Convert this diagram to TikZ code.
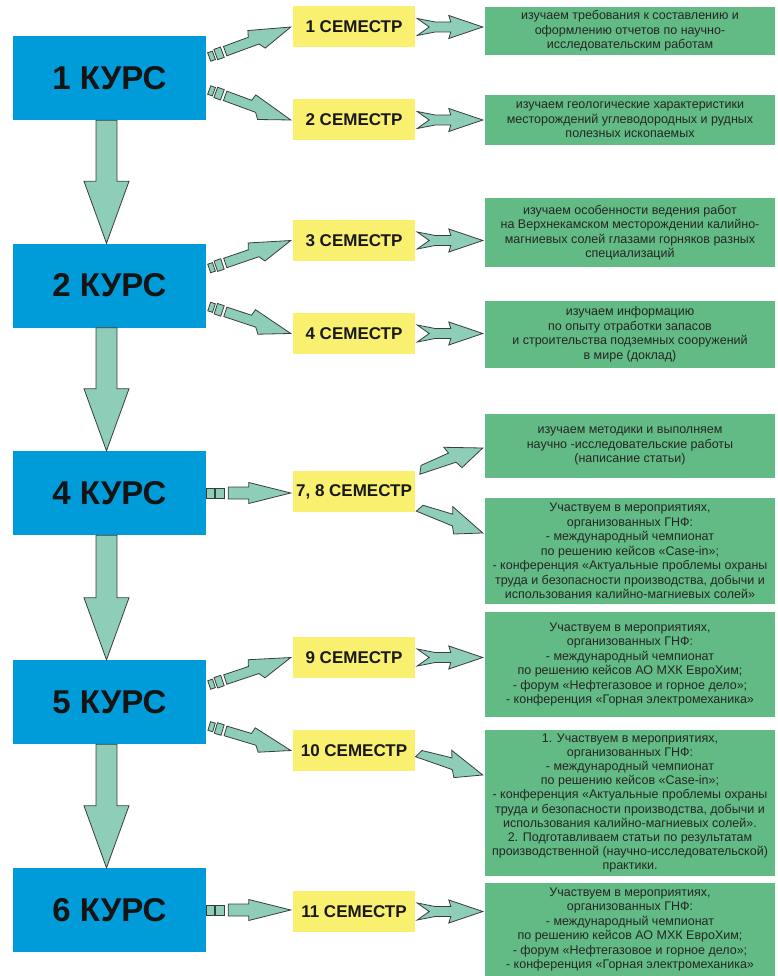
\documentclass[tikz,border=0pt]{standalone}
\usepackage{fontspec}
\setmainfont{Liberation Sans}
\usetikzlibrary{calc}

\definecolor{kursblue}{RGB}{0,156,218}
\definecolor{semyellow}{RGB}{249,240,112}
\definecolor{taskgreen}{RGB}{98,186,132}
\definecolor{arrowteal}{RGB}{142,205,184}
\definecolor{arrowline}{RGB}{55,62,60}
\definecolor{textgray}{RGB}{38,38,38}

% arrow along the line between two anchors, drawn in its own frame
\newcommand{\placearrow}[3]{%
  \path let \p1=#2, \p2=#3 in \pgfextra{%
    \pgfmathsetmacro\arrang{atan2(\y2-\y1,\x2-\x1)}%
    \pgfmathsetmacro\arrlen{veclen(\x2-\x1,\y2-\y1)}%
    \global\let\arrang\arrang\global\let\arrlen\arrlen};
  \begin{scope}[shift={#2}, rotate=\arrang, x=1pt, y=1pt]
    #1
  \end{scope}}

\newcommand{\shapestripezig}{%
  \draw[arr] (0,-4.5) rectangle (5,4.5);
  \draw[arr] (7,-5.5) rectangle (14,5.5);
  \draw[arr] (17,-5) -- (17,5) -- ({0.5*\arrlen},5) -- ({0.5*\arrlen+2},11.5) -- (\arrlen,0)
    -- ({0.64*\arrlen},-11) -- ({0.59*\arrlen},-5) -- cycle;}
\newcommand{\shapestripestraight}{%
  \draw[arr] (0,-5) rectangle (8,5);
  \draw[arr] (9,-5) rectangle (18,5);
  \draw[arr] (22,-6) -- (22,6) -- ({\arrlen-42},6) -- ({\arrlen-42},10.5) -- (\arrlen,0)
    -- ({\arrlen-42},-10.5) -- ({\arrlen-42},-6) -- cycle;}
\newcommand{\shapenotched}{%
  \draw[arr] (0,8.5) -- (18,5) -- ({\arrlen-32},5) -- ({\arrlen-34},11.5) -- (\arrlen,0)
    -- ({\arrlen-34},-11.5) -- ({\arrlen-32},-5) -- (18,-5) -- (0,-8.5) -- (12,0) -- cycle;}
\newcommand{\shapezig}{%
  \draw[arr] (0,-5) -- (4,3) -- ({0.5*\arrlen},6) -- ({0.46*\arrlen},13) -- (\arrlen,0)
    -- ({0.62*\arrlen},-12) -- ({0.56*\arrlen},-5) -- cycle;}

% big arrow from one course to the next
\newcommand{\courseflow}[2]{%
  \draw[arr] let \p1=([xshift=-3pt]#1.south), \p2=([xshift=-3pt]#2.north) in
    (\x1-10.5pt,\y1) -- (\x1+10.5pt,\y1) -- (\x1+10.5pt,\y2+62pt) -- (\x1+22.5pt,\y2+62pt)
    -- (\x1,\y2) -- (\x1-22.5pt,\y2+62pt) -- (\x1-10.5pt,\y2+62pt) -- cycle;}

\begin{document}
\begin{tikzpicture}[x=1pt, y=-1pt,
    kurs/.style={fill=kursblue, minimum width=193pt, minimum height=84pt, inner sep=0pt,
      font=\fontsize{33}{37}\selectfont\bfseries, text=black!92},
    semestr/.style={fill=semyellow, minimum width=122pt, minimum height=41pt, inner sep=0pt,
      font=\fontsize{17}{20}\selectfont\bfseries, text=black!90},
    task/.style={fill=taskgreen, minimum width=290pt, inner sep=0pt, align=center,
      font=\fontsize{12.5}{14.5}\selectfont, text=textgray},
    arr/.style={fill=arrowteal, draw=arrowline, line width=0.8pt}]
    \useasboundingbox (0,0) rectangle (778,976);

    % Courses
    \foreach \c/\y in {1/78, 2/285.5, 4/493, 5/702, 6/910} {
        \node[kurs] (k\c) at (109.5,\y) {\c~КУРС};
    }

    % Semesters
    \foreach \c/\t/\y in {1/1/27, 2/2/120, 3/3/240.5, 4/4/333.5, 78/{7, 8}/491.5,
                          9/9/657.5, 10/10/750.5, 11/11/911.5} {
        \node[semestr] (s\c) at (354,\y) {\t~СЕМЕСТР};
    }

    % What is done in each semester
    \node[task, minimum height=48pt] (g1) at (630,31) {изучаем требования к составлению и\\
        оформлению отчетов по научно-\\исследовательским работам};
    \node[task, minimum height=50pt] (g2) at (630,120) {изучаем геологические характеристики\\
        месторождений углеводородных и рудных\\полезных ископаемых};
    \node[task, minimum height=69pt] (g3) at (630,232.5) {изучаем особенности ведения работ\\
        на Верхнекамском месторождении калийно-\\магниевых солей глазами горняков разных\\специализаций};
    \node[task, minimum height=67pt] (g4) at (630,334.5) {изучаем информацию\\
        по опыту отработки запасов\\и строительства подземных сооружений\\в мире (доклад)};
    \node[task, minimum height=64pt] (g5) at (630,446) {изучаем методики и выполняем\\
        научно -исследовательские работы\\(написание статьи)};
    \node[task, minimum height=106pt] (g6) at (630,551) {Участвуем в мероприятиях,\\
        организованных ГНФ:\\- международный чемпионат\\по решению кейсов «Case-in»;\\
        - конференция «Актуальные проблемы охраны\\труда и безопасности производства, добычи и\\
        использования калийно-магниевых солей»};
    \node[task, minimum height=105pt] (g7) at (630,664.5) {Участвуем в мероприятиях,\\
        организованных ГНФ:\\- международный чемпионат\\по решению кейсов АО МХК ЕвроХим;\\
        - форум «Нефтегазовое и горное дело»;\\- конференция «Горная электромеханика»};
    \node[task, minimum height=146pt, font=\fontsize{12.5}{14.2}\selectfont] (g8) at (630,803)
        {1. Участвуем в мероприятиях,\\
        организованных ГНФ:\\- международный чемпионат\\по решению кейсов «Case-in»;\\
        - конференция «Актуальные проблемы охраны\\труда и безопасности производства, добычи и\\
        использования калийно-магниевых солей».\\2. Подготавливаем статьи по результатам\\
        производственной (научно-исследовательской)\\практики.};
    \node[task, minimum height=93pt] (g9) at (630,929.5) {Участвуем в мероприятиях,\\
        организованных ГНФ:\\- международный чемпионат\\по решению кейсов АО МХК ЕвроХим;\\
        - форум «Нефтегазовое и горное дело»;\\- конференция «Горная электромеханика»};

    % Course to course
    \courseflow{k1}{k2}
    \courseflow{k2}{k4}
    \courseflow{k4}{k5}
    \courseflow{k5}{k6}

    % Course to semester
    \placearrow{\shapestripezig}{([xshift=3pt,yshift=21pt]k1.east)}{([xshift=-2pt]s1.west)}
    \placearrow{\shapestripezig}{([xshift=3pt,yshift=-12pt]k1.east)}{([xshift=-2pt]s2.west)}
    \placearrow{\shapestripezig}{([xshift=3pt,yshift=17pt]k2.east)}{([xshift=-2pt]s3.west)}
    \placearrow{\shapestripezig}{([xshift=3pt,yshift=-21pt]k2.east)}{([xshift=-2pt]s4.west)}
    \placearrow{\shapestripestraight}{(k4.east)}{([xshift=-2pt]k4.east -| s78.west)}
    \placearrow{\shapestripezig}{([xshift=3pt,yshift=17pt]k5.east)}{([xshift=-2pt]s9.west)}
    \placearrow{\shapestripezig}{([xshift=3pt,yshift=-24pt]k5.east)}{([xshift=-2pt]s10.west)}
    \placearrow{\shapestripestraight}{(k6.east)}{([xshift=-2pt]k6.east -| s11.west)}

    % Semester to task
    \foreach \a/\b in {1/1, 2/2, 3/3, 4/4, 9/7, 11/9} {
        \placearrow{\shapenotched}{([xshift=2pt]s\a.east)}{([xshift=-2pt]s\a.east -| g\b.west)}
    }
    \placearrow{\shapezig}{([xshift=3pt,yshift=22pt]s78.east)}{([xshift=-2pt,yshift=-2pt]g5.west)}
    \placearrow{\shapezig}{([xshift=3pt,yshift=-15pt]s78.east)}{([xshift=-2pt,yshift=18pt]g6.west)}
    \placearrow{\shapezig}{([xshift=2pt,yshift=-1.5pt]s10.east)}{([xshift=-2pt,yshift=28pt]g8.west)}
\end{tikzpicture}
\end{document}
